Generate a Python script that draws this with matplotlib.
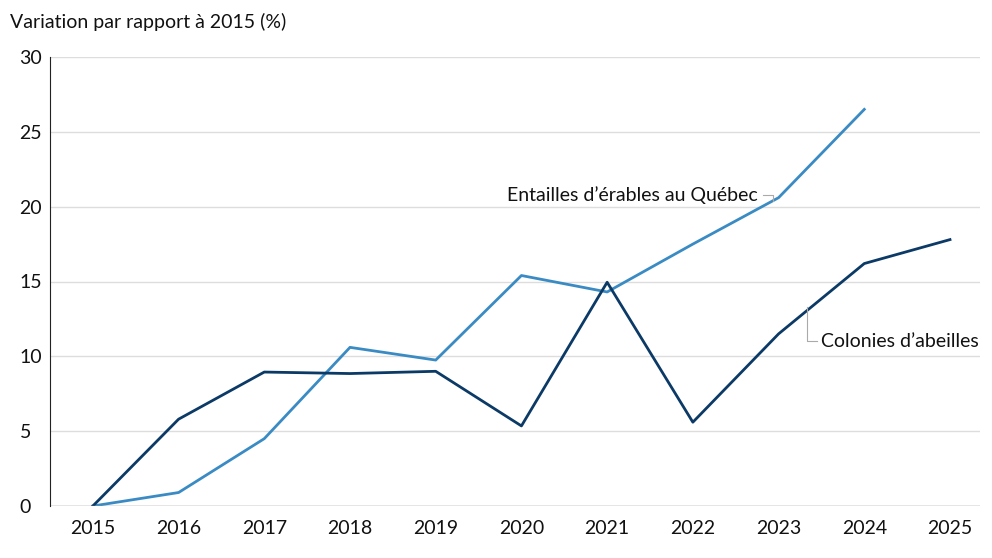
import matplotlib.pyplot as plt

plt.rcParams['font.family'] = ['Lato', 'DejaVu Sans']

years = [2015, 2016, 2017, 2018, 2019, 2020, 2021, 2022, 2023, 2024, 2025]
entailles = [0, 0.9, 4.5, 10.6, 9.75, 15.4, 14.3, 17.5, 20.6, 26.5]
colonies = [0, 5.8, 8.95, 8.85, 9.0, 5.35, 14.95, 5.6, 11.5, 16.2, 17.8]

fig = plt.figure(figsize=(9.92, 5.58), dpi=100)
ax = fig.add_axes([50 / 992, 52 / 558, 930 / 992, 449 / 558])

ax.plot(years[:len(entailles)], entailles, color='#3a8bc4', lw=2)
ax.plot(years, colonies, color='#0c3a66', lw=2)

ax.set_xlim(2014.5, 2025.35)
ax.set_ylim(0, 30)
ax.set_yticks(range(0, 31, 5))
ax.set_xticks(years)
ax.tick_params(length=0, labelsize=14, colors='#111111')
ax.tick_params(axis='x', pad=10)
ax.tick_params(axis='y', pad=22)
for lbl in ax.get_yticklabels():
    lbl.set_horizontalalignment('left')
ax.grid(axis='y', color='#dddddd', lw=1)
for s in ['top', 'right', 'bottom']:
    ax.spines[s].set_visible(False)
ax.spines['left'].set_color('#222222')
ax.axhline(0, color='#999999', lw=1)

fig.text(10 / 992, 1 - 22 / 558, 'Variation par rapport à 2015 (%)', fontsize=14,
         va='center', ha='left', color='#111111')

# Leader lines and series labels
ax.plot([2022.82, 2022.93, 2022.93], [20.8, 20.8, 20.4], color='#aaaaaa', lw=0.8)
ax.text(2022.76, 20.8, 'Entailles d’érables au Québec', fontsize=14,
        ha='right', va='center', color='#111111')
ax.plot([2023.33, 2023.33, 2023.45], [13.3, 11.0, 11.0], color='#aaaaaa', lw=0.8)
ax.text(2023.5, 11.0, 'Colonies d’abeilles', fontsize=14,
        ha='left', va='center', color='#111111')

fig.savefig('out.png', dpi=100)
